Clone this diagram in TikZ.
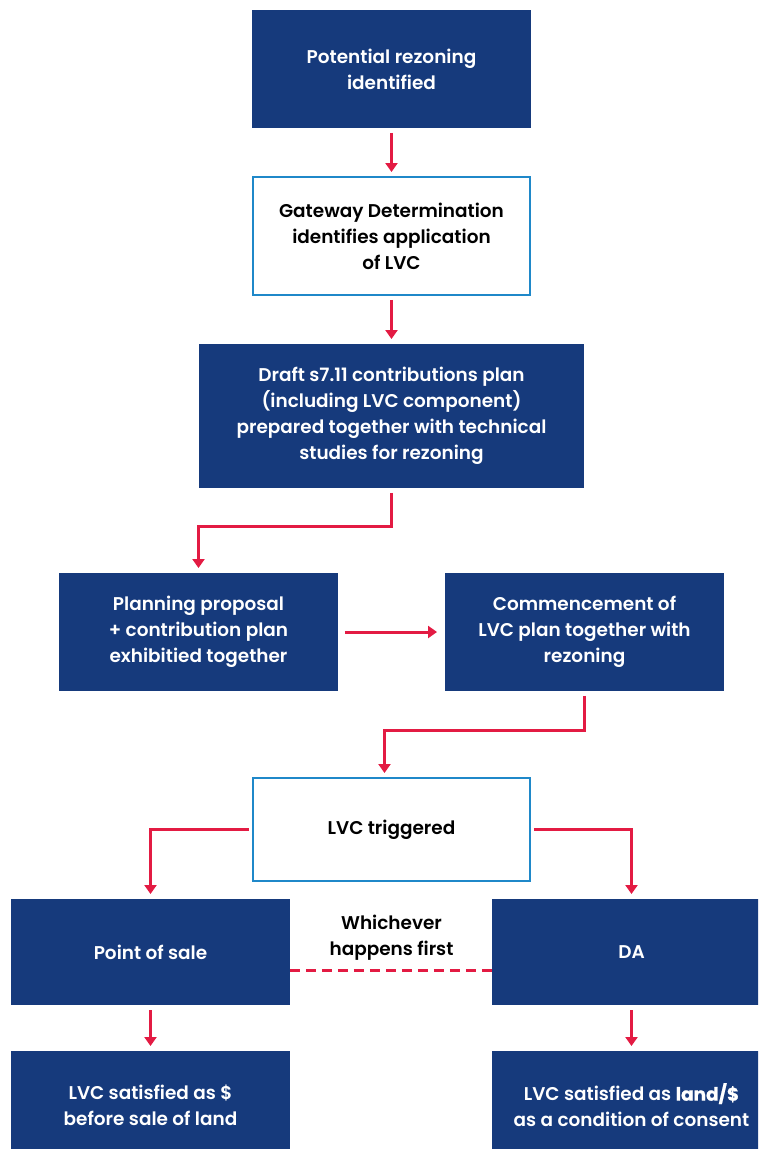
\documentclass[tikz,border=0pt]{standalone}
\usepackage{fontspec}
\setmainfont{Poppins}[BoldFont={Poppins SemiBold}]
\newfontfamily\heavyfont{Poppins}[BoldFeatures={FakeBold=0.6}]
\usetikzlibrary{arrows.meta}
\definecolor{lvcnavy}{RGB}{22,58,124}
\definecolor{lvcred}{RGB}{227,27,67}
\definecolor{lvcblue}{RGB}{31,136,201}

\begin{document}
\begin{tikzpicture}[x=0.02cm, y=-0.02cm,
    boxtext/.style={inner sep=0pt, outer sep=0pt, align=center, font=\bfseries\fontsize{10.5}{14.8}\selectfont},
    navybox/.style={boxtext, fill=lvcnavy, text=white, minimum width=5.58cm},
    openbox/.style={boxtext, draw=lvcblue, line width=0.04cm, text=black, minimum width=5.54cm},
    redarrow/.style={draw=lvcred, line width=0.06cm, -{Triangle[width=0.24cm,length=0.18cm]}, shorten <=0.1cm, shorten >=0.1cm},
    dashline/.style={draw=lvcred, line width=0.06cm, dash pattern=on 0.2cm off 0.12cm}]
    \useasboundingbox (0,0) rectangle (758,1149);
    \clip (0,0) rectangle (758,1149);

    \node[navybox, minimum height=2.36cm] (pot) at (391.5,69) {Potential rezoning\\identified};
    \node[openbox, minimum height=2.36cm] (gate) at (391.5,236) {Gateway Determination\\identifies application\\of LVC};
    \node[navybox, minimum width=7.7cm, minimum height=2.88cm] (draft) at (391.5,416) {Draft s7.11 contributions plan\\(including LVC component)\\prepared together with technical\\studies for rezoning};
    \node[navybox, minimum height=2.36cm] (plan) at (198.5,632) {Planning proposal\\+ contribution plan\\exhibitied together};
    \node[navybox, minimum height=2.36cm] (comm) at (584.5,632) {Commencement of\\LVC plan together with\\rezoning};
    \node[openbox, minimum height=2.06cm] (trig) at (391.5,829.5) {LVC triggered};
    \node[navybox, minimum height=2.12cm] (sale) at (150.5,952) {Point of sale};
    \node[navybox, minimum height=2.12cm] (da) at (631.5,952) {DA};
    \node[navybox, minimum height=2.16cm] (cash) at (150.5,1105) {LVC satisfied as \$\\before sale of land};
    \node[navybox, minimum height=2.16cm] (land) at (631.5,1105) {LVC satisfied as {\heavyfont\bfseries land/\$}\\as a condition of consent};
    \node[boxtext] (first) at (391.5,938) {Whichever\\happens first};

    \draw[redarrow] (pot) -- (gate); % top
    \draw[redarrow] (gate) -- (draft);
    \draw[redarrow] (draft.south) -- ++(0,39) -| (plan.north); % elbow left
    \draw[redarrow, shorten <=0.14cm, shorten >=0.16cm] (plan) -- (comm);
    \draw[redarrow] (comm.south) -- ++(0,40) -| ([xshift=-0.14cm]trig.north); % elbow back
    \draw[redarrow, shorten <=0.08cm] (trig.west) -| (sale.north); % to sale
    \draw[redarrow, shorten <=0.08cm] (trig.east) -| (da.north); % to DA
    \draw[redarrow] (sale) -- (cash);
    \draw[redarrow] (da) -- (land);
    \draw[dashline] ([yshift=-0.36cm]sale.east) -- ([yshift=-0.36cm]da.west); % whichever first
\end{tikzpicture}
\end{document}
